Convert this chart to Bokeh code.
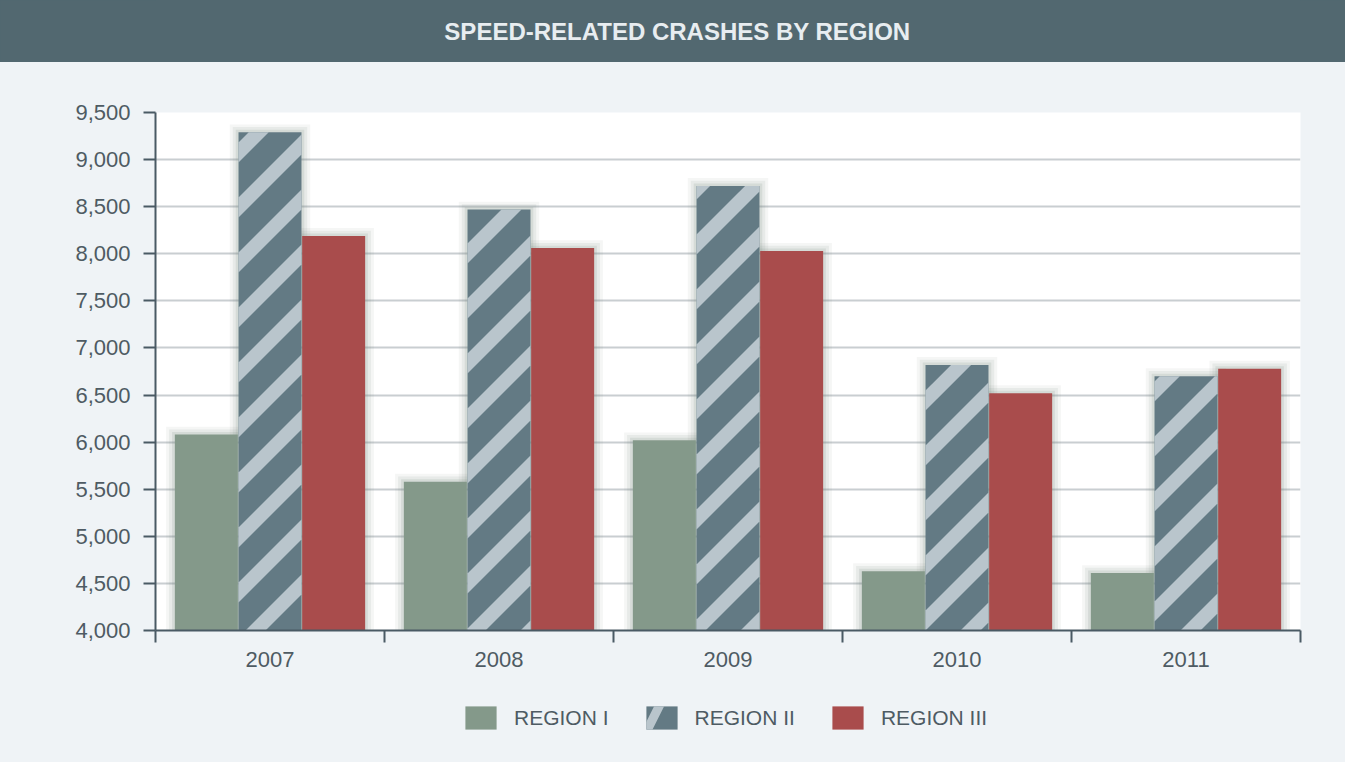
import numpy as np
from bokeh.plotting import figure
from bokeh.models import (ColumnDataSource, FixedTicker, NumeralTickFormatter, Legend,
                          LegendItem, Range1d)
from bokeh.layouts import column
from bokeh.transform import dodge
from bokeh.core.properties import value
from bokeh.embed import file_html
from bokeh.resources import INLINE

# ---------------- data ----------------
years = ["2007", "2008", "2009", "2010", "2011"]
region_names = ["REGION I", "REGION II", "REGION III"]
region1 = [6080, 5580, 6020, 4630, 4610]
region2 = [9290, 8470, 8720, 6820, 6700]
region3 = [8190, 8060, 8030, 6520, 6780]
y_ticks = [4000, 4500, 5000, 5500, 6000, 6500, 7000, 7500, 8000, 8500, 9000, 9500]
title_text = "SPEED-RELATED CRASHES BY REGION"

# ---------------- style ----------------
FONT = "Liberation Sans"
BG = "#eff3f6"
TITLE_BG = "#526870"
TEXT = "#4e5b63"
AXIS = "#4a5a64"
C1 = "#84998a"
C2 = "#637a84"
C2_STRIPE = "#b9c5cc"
C3 = "#a94c4c"
W = 1345
LEFT, RIGHT = 155, 45
MAIN_H, TOP, BOTTOM = 618, 50, 50
Y0, Y1 = 4000, 9500
bw = 0.275
off = 0.278
STRIPE_PERIOD, STRIPE_THICK = 55.0, 20.0   # vertical, in pixels

centers = np.arange(len(years)) + 0.5
src = ColumnDataSource(dict(x=centers, year=years, r1=region1, r2=region2, r3=region3))

# ---------------- title bar ----------------
t = figure(width=W, height=62, output_backend="svg", toolbar_location=None,
           x_axis_type=None, y_axis_type=None,
           x_range=Range1d(LEFT, W - RIGHT), y_range=Range1d(0, 1),
           min_border_left=LEFT, min_border_right=RIGHT, min_border_top=0, min_border_bottom=0,
           background_fill_color=TITLE_BG, border_fill_color=TITLE_BG, outline_line_color=None,
           styles={"background-color": TITLE_BG})
t.grid.visible = False
t.text(x=[677], y=[0.5], text=[title_text],
       text_align="center", text_baseline="middle",
       text_font=value(FONT), text_font_style="bold", text_font_size="24px",
       text_color="#e8edf0")

# ---------------- main chart ----------------
p = figure(width=W, height=MAIN_H, output_backend="svg", toolbar_location=None,
           x_range=Range1d(0, len(years)), y_range=Range1d(Y0, Y1),
           min_border_left=LEFT, min_border_right=RIGHT, min_border_top=TOP,
           min_border_bottom=BOTTOM,
           background_fill_color="white", border_fill_color=BG, outline_line_color=None,
           styles={"background-color": BG})

# soft glow behind bars
for grow, alpha in [(0.038, 0.07), (0.025, 0.10), (0.012, 0.15)]:
    for col, o in [("r1", -off), ("r2", 0.0), ("r3", off)]:
        p.vbar(x=dodge("x", o, range=p.x_range), top=dodge(col, grow * 2200, range=p.y_range),
               bottom=Y0, width=bw + 2 * grow, source=src,
               fill_color="#6f8478", fill_alpha=alpha, line_color=None)

p.vbar(x=dodge("x", -off, range=p.x_range), top="r1", bottom=Y0, width=bw, source=src,
       fill_color=C1, line_color=None)
p.vbar(x=dodge("x", 0.0, range=p.x_range), top="r2", bottom=Y0, width=bw, source=src,
       fill_color=C2, line_color=None)
p.vbar(x=dodge("x", off, range=p.x_range), top="r3", bottom=Y0, width=bw, source=src,
       fill_color=C3, line_color=None)

# diagonal stripes on the Region II bars (45 degrees on screen), derived from the bar values
sx = (W - LEFT - RIGHT) / len(years)        # pixels per x unit
sy = (MAIN_H - TOP - BOTTOM) / (Y1 - Y0)    # pixels per y unit


def clip(poly, a, keep_ge):
    """Clip polygon (list of (X, Y) pixel points) by the half-plane Y - X >= a (or <= a)."""
    out = []
    n = len(poly)
    for i in range(n):
        P, Q = poly[i], poly[(i + 1) % n]
        fp, fq = (P[1] - P[0]) - a, (Q[1] - Q[0]) - a
        if not keep_ge:
            fp, fq = -fp, -fq
        if fp >= 0:
            out.append(P)
        if (fp >= 0) != (fq >= 0):
            s = fp / (fp - fq)
            out.append((P[0] + s * (Q[0] - P[0]), P[1] + s * (Q[1] - P[1])))
    return out


stripe_xs, stripe_ys = [], []
for xc, top in zip(centers, region2):
    X0, X1 = (xc - bw / 2) * sx, (xc + bw / 2) * sx
    T = (top - Y0) * sy
    rect = [(X0, 0.0), (X1, 0.0), (X1, T), (X0, T)]
    k0 = int(np.floor((0.0 - X1) / STRIPE_PERIOD)) - 1
    k1 = int(np.ceil((T - X0) / STRIPE_PERIOD)) + 1
    for k in range(k0, k1 + 1):
        a = k * STRIPE_PERIOD
        poly = clip(clip(rect, a, True), a + STRIPE_THICK, False)
        if len(poly) >= 3:
            stripe_xs.append([pt[0] / sx for pt in poly])
            stripe_ys.append([pt[1] / sy + Y0 for pt in poly])

p.patches(stripe_xs, stripe_ys, fill_color=C2_STRIPE, line_color=None)

# grid
p.xgrid.visible = False
p.ygrid.ticker = FixedTicker(ticks=y_ticks)
p.ygrid.grid_line_color = "#c9ced1"
p.ygrid.grid_line_width = 2
p.ygrid.level = "underlay"

# y axis
p.yaxis.ticker = FixedTicker(ticks=y_ticks)
p.yaxis.formatter = NumeralTickFormatter(format="0,0")
p.yaxis.major_label_text_font = FONT
p.yaxis.major_label_text_font_size = "22px"
p.yaxis.major_label_text_color = TEXT
p.yaxis.axis_line_color = AXIS
p.yaxis.axis_line_width = 2
p.yaxis.major_tick_line_color = AXIS
p.yaxis.major_tick_line_width = 2
p.yaxis.major_tick_in = 0
p.yaxis.major_tick_out = 12
p.yaxis.minor_tick_line_color = None
p.yaxis.major_label_standoff = 13

# x axis: labels at group centers, ticks at boundaries
p.xaxis.ticker = FixedTicker(ticks=list(centers), minor_ticks=list(range(len(years) + 1)))
p.xaxis.major_label_overrides = {float(c): y for c, y in zip(centers, years)}
p.xaxis.major_label_text_font = FONT
p.xaxis.major_label_text_font_size = "22px"
p.xaxis.major_label_text_color = TEXT
p.xaxis.axis_line_color = AXIS
p.xaxis.axis_line_width = 2
p.xaxis.major_tick_line_color = None
p.xaxis.major_tick_in = 0
p.xaxis.major_tick_out = 12
p.xaxis.minor_tick_line_color = AXIS
p.xaxis.minor_tick_line_width = 2
p.xaxis.minor_tick_in = 0
p.xaxis.minor_tick_out = 12
p.xaxis.major_label_standoff = 9

# ---------------- legend strip ----------------
lg = figure(width=W, height=82, output_backend="svg", toolbar_location=None,
            x_axis_type=None, y_axis_type=None,
            x_range=Range1d(0, 1), y_range=Range1d(0, 1),
            min_border_left=LEFT, min_border_right=RIGHT, min_border_top=0, min_border_bottom=0,
            background_fill_color=BG, border_fill_color=BG, outline_line_color=None,
            styles={"background-color": BG})
lg.grid.visible = False
hidden = ColumnDataSource(dict(x=[-5], top=[-5]))  # outside the visible range
k1 = lg.vbar(x="x", top="top", width=0.1, source=hidden, fill_color=C1, line_color=None)
k2 = lg.vbar(x="x", top="top", width=0.1, source=hidden, fill_color=C2, line_color=None,
             hatch_pattern="/", hatch_color=C2_STRIPE, hatch_weight=9, hatch_scale=70)
k3 = lg.vbar(x="x", top="top", width=0.1, source=hidden, fill_color=C3, line_color=None)
legend = Legend(items=[LegendItem(label=region_names[0], renderers=[k1]),
                       LegendItem(label=region_names[1], renderers=[k2]),
                       LegendItem(label=region_names[2], renderers=[k3])],
                orientation="horizontal", location=(461 - LEFT, 30),
                glyph_width=39, glyph_height=29, label_standoff=14, spacing=33,
                padding=0, margin=0, border_line_color=None, background_fill_alpha=0,
                label_text_font=FONT, label_text_font_size="21px", label_text_color=TEXT)
lg.add_layout(legend, "center")

layout = column(t, p, lg, spacing=0)
open("out.html", "w").write(file_html(layout, INLINE))
